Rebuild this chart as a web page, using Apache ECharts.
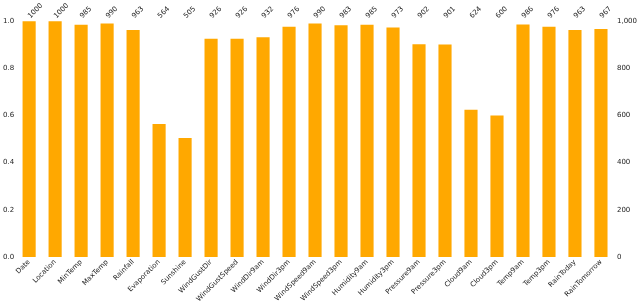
<!DOCTYPE html>
<html>
<head>
<meta charset="utf-8">
<script src="https://cdn.jsdelivr.net/npm/echarts@6/dist/echarts.min.js"></script>
<style>html,body{margin:0;padding:0;background:#fff;}#c{width:640px;height:305px;}</style>
</head>
<body>
<div id="c"></div>
<script>
const categories = ["Date","Location","MinTemp","MaxTemp","Rainfall","Evaporation","Sunshine","WindGustDir","WindGustSpeed","WindDir9am","WindDir3pm","WindSpeed9am","WindSpeed3pm","Humidity9am","Humidity3pm","Pressure9am","Pressure3pm","Cloud9am","Cloud3pm","Temp9am","Temp3pm","RainToday","RainTomorrow"];
const counts = [1000,1000,985,990,963,564,505,926,926,932,976,990,983,985,973,902,901,624,600,986,976,963,967];
const totalRows = 1000;
const leftTicks = [0,0.2,0.4,0.6,0.8,1.0];
const rightTicks = [0,200,400,600,800,1000];

const fractions = counts.map(c => c / totalRows);
const font = 'DejaVu Sans';
const txt = '#222';
const chart = echarts.init(document.getElementById('c'), null, {renderer:'canvas'});
chart.setOption({
  animation:false,
  grid:{left:14.2, right:20.8, top:19.5, bottom:45.5, containLabel:false},
  xAxis:[
    {type:'category', position:'bottom', data:categories,
     axisLine:{show:false}, axisTick:{show:false},
     axisLabel:{interval:0, rotate:45, fontSize:7, fontFamily:font, color:txt, margin:4}},
    {type:'category', position:'top', data:counts.map(String),
     axisLine:{show:false}, axisTick:{show:false},
     axisLabel:{interval:0, rotate:45, fontSize:7, fontFamily:font, color:txt, margin:4}}
  ],
  yAxis:[
    {type:'value', position:'left', min:leftTicks[0], max:leftTicks[leftTicks.length-1], interval:leftTicks[1]-leftTicks[0],
     axisLine:{show:false}, axisTick:{show:false}, splitLine:{show:false},
     axisLabel:{fontSize:7, fontFamily:font, color:txt, margin:2, formatter:v=>v.toFixed(1)}},
    {type:'value', position:'right', min:rightTicks[0], max:rightTicks[rightTicks.length-1], interval:rightTicks[1]-rightTicks[0],
     axisLine:{show:false}, axisTick:{show:false}, splitLine:{show:false},
     axisLabel:{fontSize:7, fontFamily:font, color:txt, margin:3}}
  ],
  series:[
    {type:'bar', xAxisIndex:0, yAxisIndex:0, data:fractions, barWidth:'50.5%',
     itemStyle:{color:'#FFA800'}},
    {type:'line', xAxisIndex:1, yAxisIndex:1, data:counts, symbol:'none', silent:true,
     lineStyle:{opacity:0}}
  ]
});
</script>
</body>
</html>
